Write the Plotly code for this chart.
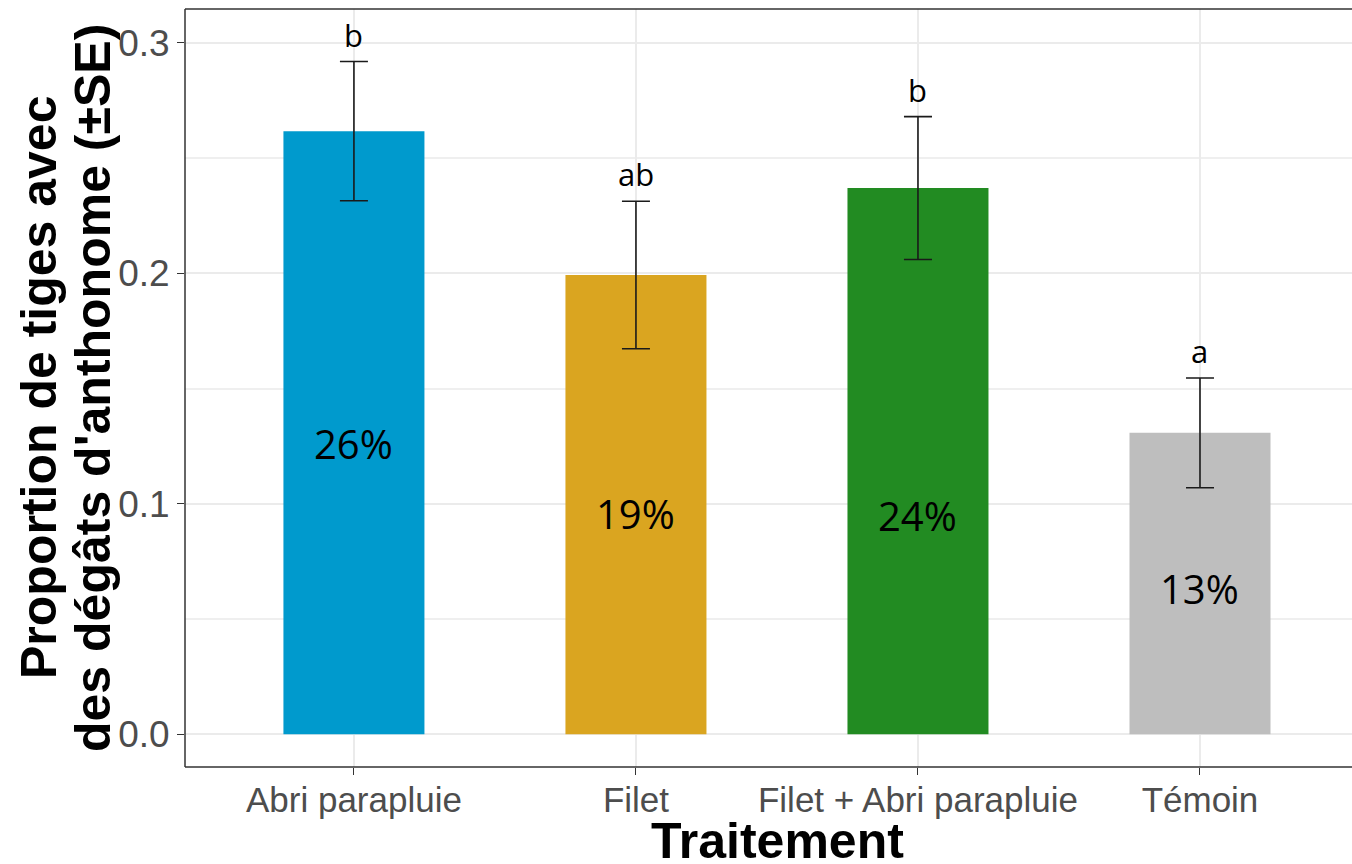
import plotly.graph_objects as go

categories = ["Abri parapluie", "Filet", "Filet + Abri parapluie", "Témoin"]
means = [0.2617, 0.1993, 0.2370, 0.1308]
se = [0.0302, 0.0320, 0.0310, 0.0238]
letters = ["b", "ab", "b", "a"]
pct_labels = ["26%", "19%", "24%", "13%"]
label_y = [0.1263, 0.0960, 0.0951, 0.0634]
colors = ["#009ACD", "#DAA520", "#228B22", "#BEBEBE"]
y_ticks = [0.0, 0.1, 0.2, 0.3]

W, H = 1352, 864
L, T, B = 185, 9, 97
plot_w = W - L
plot_h = H - T - B

fig = go.Figure()
fig.add_trace(go.Bar(
    x=categories, y=means, width=0.5,
    marker=dict(color=colors, line=dict(width=0)),
    error_y=dict(type="data", array=se, visible=True, color="#1a1a1a",
                 thickness=1.6, width=14),
    showlegend=False, hoverinfo="skip",
))

for c, m, s, lt in zip(categories, means, se, letters):
    fig.add_annotation(x=c, y=m + s, text=lt, showarrow=False,
                       xref="x", yref="y", yanchor="bottom", yshift=4,
                       font=dict(family="Open Sans", size=31, color="#000000"))

for c, ly, pl in zip(categories, label_y, pct_labels):
    fig.add_annotation(x=c, y=ly, text=pl, showarrow=False,
                       xref="x", yref="y", yanchor="middle",
                       font=dict(family="Open Sans", size=40, color="#000000"))

title_font = dict(family="Liberation Sans, Arial", size=50, color="#000000")
fig.add_annotation(text="<b>Traitement</b>", xref="paper", yref="paper",
                   x=(777 - L) / plot_w, y=0, yshift=-44, xanchor="center",
                   yanchor="top", showarrow=False, font=title_font)
fig.add_annotation(text="<b>Proportion de tiges avec</b>", xref="paper", yref="paper",
                   x=(39 - L) / plot_w, y=0.5, textangle=-90, xanchor="center",
                   yanchor="middle", showarrow=False, font=title_font)
fig.add_annotation(text="<b>des dégâts d'anthonome (±SE)</b>", xref="paper", yref="paper",
                   x=(93 - L) / plot_w, y=0.5, textangle=-90, xanchor="center",
                   yanchor="middle", showarrow=False, font=title_font)

# panel frame: left, bottom, top (right side lies beyond the picture)
frame = dict(color="#333333", width=1.5)
for x0, y0, x1, y1 in [(0, 0, 0, 1), (0, 0, 1, 0), (0, 1, 1, 1)]:
    fig.add_shape(type="line", xref="paper", yref="paper",
                  x0=x0, y0=y0, x1=x1, y1=y1, line=frame, layer="above")

fig.update_layout(
    width=W, height=H,
    margin=dict(l=L, r=0, t=T, b=B, pad=0),
    plot_bgcolor="white", paper_bgcolor="white",
    bargap=0.5,
)
tick_font = dict(family="Liberation Sans, Arial", size=35, color="#4D4D4D")
fig.update_xaxes(
    type="category", range=[-0.599, 3.539],
    showgrid=True, gridcolor="#EBEBEB", gridwidth=2,
    showline=False,
    ticks="outside", ticklen=7, tickwidth=1.3, tickcolor="#333333",
    tickfont=tick_font, zeroline=False, ticklabelstandoff=-5,
)
fig.update_yaxes(
    range=[-0.0142, 0.3147],
    tickvals=y_ticks, ticktext=[f"{v:.1f}" for v in y_ticks],
    showgrid=True, gridcolor="#EBEBEB", gridwidth=2,
    minor=dict(tickvals=[0.05, 0.15, 0.25], showgrid=True, gridcolor="#EFEFEF", gridwidth=1.5),
    showline=False,
    ticks="outside", ticklen=7, tickwidth=1.3, tickcolor="#333333",
    tickfont=dict(family="Liberation Sans, Arial", size=37, color="#4D4D4D"),
    zeroline=False,
)

fig.write_html(
    "out.html",
    config={"displayModeBar": False},
    post_script="document.body.style.margin='0';document.documentElement.style.overflow='hidden';",
)
